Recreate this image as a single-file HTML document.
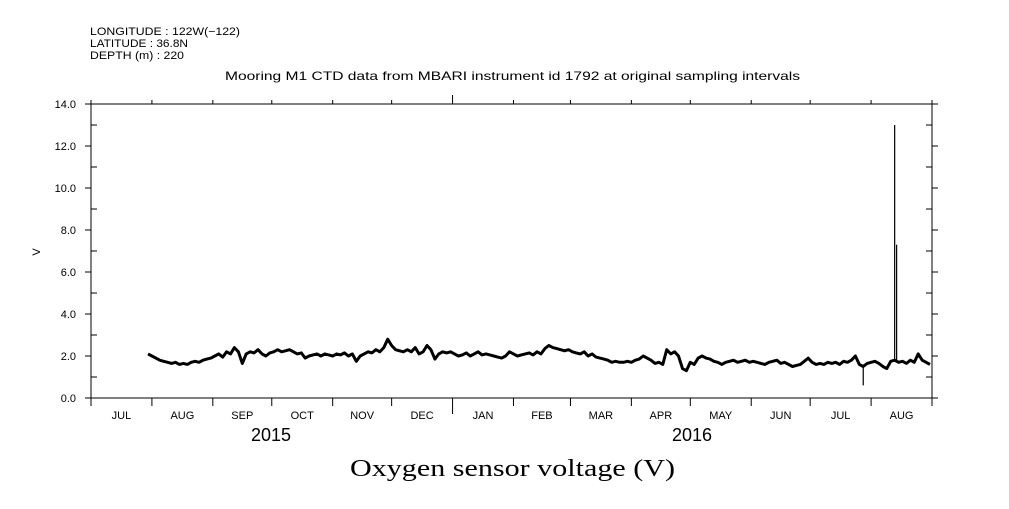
<!DOCTYPE html>
<html><head><meta charset="utf-8"><style>
body{margin:0;background:#fff;}
svg text{font-family:"Liberation Sans",sans-serif;fill:#000;}
</style></head><body>
<svg width="1009" height="504" viewBox="0 0 1009 504">
<g id="g"></g>
</svg>
<script>
const monthLabels=["JUL","AUG","SEP","OCT","NOV","DEC","JAN","FEB","MAR","APR","MAY","JUN","JUL","AUG"];
const monthStartDays=[0,31,62,92,123,153,184,215,244,275,305,336,366,397,428];
const yTicks=[0,2,4,6,8,10,12,14];
const startDay=29, stepDays=2;
const values=[2.1,2.0,
1.9,1.8,1.75,1.7,1.65,1.7,1.6,1.65,1.6,1.7,1.75,1.7,1.8,1.85,1.9,
2.0,2.1,1.95,2.2,2.1,2.4,2.2,1.65,2.1,2.2,2.15,2.3,2.1,2.0,2.15,
2.2,2.3,2.2,2.25,2.3,2.2,2.1,2.15,1.9,2.0,2.05,2.1,2.0,2.1,2.05,
2.0,2.1,2.05,2.15,2.0,2.1,1.75,2.0,2.1,2.2,2.15,2.3,2.2,2.4,2.8,
2.5,2.3,2.25,2.2,2.3,2.2,2.4,2.1,2.2,2.5,2.3,1.85,2.1,2.2,2.15,2.2,
2.1,2.0,2.05,2.15,2.0,2.1,2.2,2.05,2.1,2.05,2.0,1.95,1.9,2.0,2.2,
2.1,2.0,2.05,2.1,2.15,2.05,2.2,2.1,2.35,2.5,2.4,2.35,2.3,2.25,2.3,
2.2,2.15,2.1,2.2,2.0,2.1,1.95,1.9,1.85,1.8,1.7,1.75,1.7,1.7,1.75,
1.7,1.8,1.85,2.0,1.9,1.8,1.65,1.7,1.6,2.3,2.1,2.2,2.0,1.4,1.3,
1.7,1.6,1.9,2.0,1.9,1.85,1.75,1.7,1.6,1.7,1.75,1.8,1.7,1.75,1.8,1.7,
1.75,1.7,1.65,1.6,1.7,1.75,1.8,1.65,1.7,1.6,1.5,1.55,1.6,1.75,1.9,
1.7,1.6,1.65,1.6,1.7,1.65,1.7,1.6,1.75,1.7,1.8,2.0,1.6,1.5,1.65,
1.7,1.75,1.65,1.5,1.4,1.75,1.8,1.7,1.75,1.65,1.8,1.7,2.1,1.8,1.7,1.6];
const spikeDays=[393,409,410];
const spikeValues=[0.6,13.0,7.3];
const spikeBase=[1.6,1.8,1.8];

const L=91,R=932,T=104,B=398,totalDays=428;
const xs=d=>L+(R-L)*d/totalDays;
const ys=v=>B-(B-T)*v/14;
const NS="http://www.w3.org/2000/svg";
const g=document.getElementById('g');
function mk(tag,attrs,parent){const e=document.createElementNS(NS,tag);for(const k in attrs)e.setAttribute(k,attrs[k]);(parent||g).appendChild(e);return e;}
function txt(s,x,y,size,anchor,extra){const t=mk('text',Object.assign({x:x,y:y,'font-size':size,'text-anchor':anchor||'start'},extra||{}));t.textContent=s;return t;}

let t;
t=txt("LONGITUDE : 122W(\u2212122)",90,35,11,'start',{textLength:150,lengthAdjust:'spacingAndGlyphs'});


t=txt("LATITUDE : 36.8N",90,47,11,'start',{textLength:98,lengthAdjust:'spacingAndGlyphs'});


t=txt("DEPTH (m) : 220",90,59,11,'start',{textLength:94,lengthAdjust:'spacingAndGlyphs'});


t=txt("Mooring M1 CTD data from MBARI instrument id 1792 at original sampling intervals",225,80,12,'start',{textLength:575,lengthAdjust:'spacingAndGlyphs'});



let f=mk('rect',{x:L,y:T,width:R-L,height:B-T,fill:'none',stroke:'#000','stroke-width':1});



for(let v=0;v<=14;v++){
  const y=ys(v),maj=v%2===0;
  const a=mk('line',{x1:L-(maj?6:0),x2:L+(maj?0:6),y1:y,y2:y,stroke:'#000'});
  
  
  const b=mk('line',{x1:R-(maj?0:6),x2:R+(maj?6:0),y1:y,y2:y,stroke:'#000'});
  
  
}
yTicks.forEach(v=>{
  const l=txt(v.toFixed(1),L-15,ys(v)+4,11,'end');
  
  
});
t=txt("V",40,252,11,'middle',{transform:'rotate(-90 40 252)'});



monthStartDays.forEach((d,i)=>{
  const x=xs(d);
  const jan=(d===184);
  const a=mk('line',{x1:x,x2:x,y1:B,y2:B+(jan?16:8),stroke:'#000'});
  
  
  const b=mk('line',{x1:x,x2:x,y1:T,y2:T-(jan?9:4),stroke:'#000'});
  
  
  if(i<monthLabels.length){
    const l=txt(monthLabels[i],xs((d+monthStartDays[i+1])/2),419,11,'middle');
    
    
  }
});
t=txt("2015",271,441,18,'middle');


t=txt("2016",692,441,18,'middle');


t=txt("Oxygen sensor voltage (V)",350,476,24,'start',{textLength:325,lengthAdjust:'spacingAndGlyphs',style:'font-family:"Liberation Serif",serif'});



const pts=values.map((v,i)=>xs(startDay+i*stepDays).toFixed(1)+","+ys(v).toFixed(1)).join(" ");
const pl=mk('polyline',{points:pts,fill:'none',stroke:'#000','stroke-width':3,'stroke-linejoin':'round'});


spikeDays.forEach((d,i)=>{
  const s=mk('line',{x1:xs(d),x2:xs(d),y1:ys(spikeBase[i]),y2:ys(spikeValues[i]),stroke:'#000','stroke-width':1.2});
  
  
});
</script>
</body></html>
